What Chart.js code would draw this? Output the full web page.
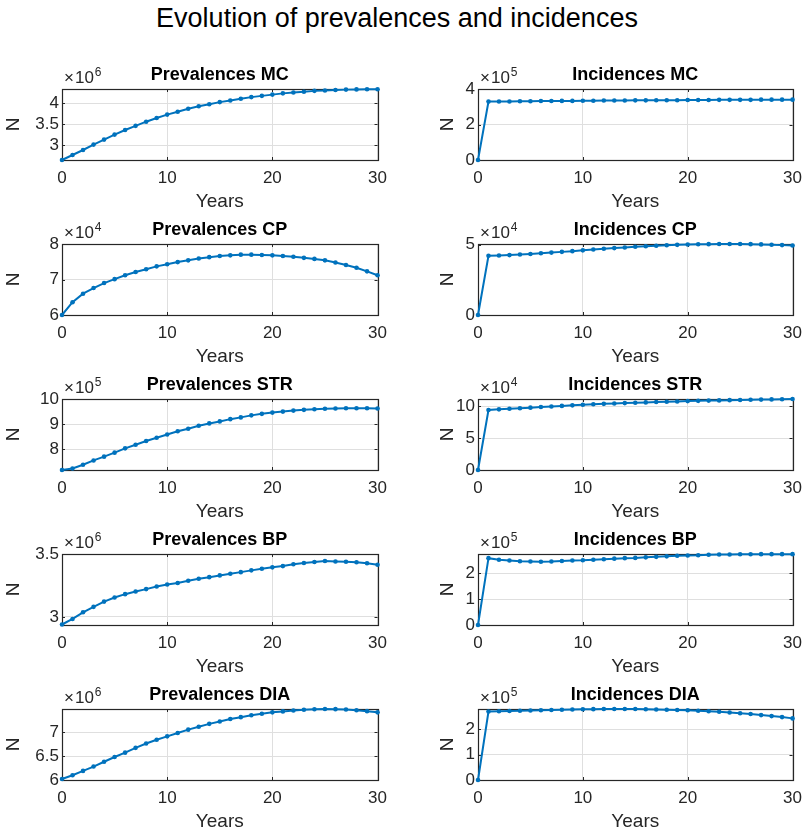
<!DOCTYPE html>
<html><head><meta charset="utf-8">
<script src="https://cdn.jsdelivr.net/npm/chart.js@4.4.1/dist/chart.umd.min.js"></script>
<style>
html,body{margin:0;padding:0;background:#fff;overflow:hidden;width:805px;height:832px;position:relative;}
#maintitle{position:absolute;left:0;top:3px;width:794px;text-align:center;font-family:"Liberation Sans",Arial,sans-serif;font-size:27px;line-height:30px;color:#000;white-space:nowrap;}
.cell{position:absolute;}
.cell canvas{display:block;}
</style></head><body>
<div id="maintitle">Evolution of prevalences and incidences</div>
<script>
// ---------- data ----------
const years = [0,1,2,3,4,5,6,7,8,9,10,11,12,13,14,15,16,17,18,19,20,21,22,23,24,25,26,27,28,29,30];
const xTicks = [0,10,20,30];

const prevMC = [2.64e6,2.76e6,2.88e6,3.01e6,3.13e6,3.25e6,3.36e6,3.46e6,3.56e6,3.65e6,3.73e6,3.80e6,3.87e6,3.93e6,3.98e6,4.03e6,4.07e6,4.11e6,4.15e6,4.18e6,4.21e6,4.24e6,4.26e6,4.28e6,4.30e6,4.31e6,4.32e6,4.33e6,4.335e6,4.34e6,4.34e6];
const incMC = [0,3.29e5,3.30e5,3.30e5,3.31e5,3.31e5,3.32e5,3.32e5,3.33e5,3.33e5,3.34e5,3.34e5,3.35e5,3.35e5,3.35e5,3.36e5,3.36e5,3.37e5,3.37e5,3.37e5,3.38e5,3.38e5,3.38e5,3.39e5,3.39e5,3.39e5,3.39e5,3.40e5,3.40e5,3.40e5,3.40e5];
const prevCP = [6.00e4,6.36e4,6.60e4,6.76e4,6.90e4,7.01e4,7.12e4,7.21e4,7.29e4,7.37e4,7.43e4,7.49e4,7.54e4,7.59e4,7.63e4,7.66e4,7.68e4,7.70e4,7.70e4,7.69e4,7.68e4,7.66e4,7.64e4,7.61e4,7.58e4,7.54e4,7.48e4,7.41e4,7.33e4,7.23e4,7.12e4];
const incCP = [0,4.21e4,4.23e4,4.26e4,4.30e4,4.34e4,4.39e4,4.44e4,4.49e4,4.54e4,4.60e4,4.66e4,4.71e4,4.76e4,4.80e4,4.85e4,4.89e4,4.93e4,4.96e4,4.99e4,5.01e4,5.03e4,5.04e4,5.05e4,5.05e4,5.05e4,5.04e4,5.02e4,5.00e4,4.97e4,4.94e4];
const prevSTR = [7.18e5,7.24e5,7.39e5,7.56e5,7.71e5,7.87e5,8.04e5,8.18e5,8.33e5,8.46e5,8.59e5,8.72e5,8.82e5,8.94e5,9.03e5,9.11e5,9.20e5,9.27e5,9.35e5,9.41e5,9.46e5,9.50e5,9.54e5,9.57e5,9.59e5,9.61e5,9.62e5,9.63e5,9.63e5,9.63e5,9.62e5];
const incSTR = [0,9.38e4,9.48e4,9.57e4,9.66e4,9.75e4,9.84e4,9.93e4,10.02e4,10.11e4,10.20e4,10.27e4,10.34e4,10.40e4,10.46e4,10.52e4,10.57e4,10.62e4,10.67e4,10.72e4,10.77e4,10.81e4,10.85e4,10.88e4,10.92e4,10.95e4,10.98e4,11.01e4,11.04e4,11.07e4,11.10e4];
const prevBP = [2.940e6,2.984e6,3.037e6,3.080e6,3.122e6,3.154e6,3.181e6,3.202e6,3.221e6,3.242e6,3.258e6,3.270e6,3.287e6,3.303e6,3.316e6,3.330e6,3.343e6,3.356e6,3.370e6,3.383e6,3.394e6,3.404e6,3.418e6,3.428e6,3.436e6,3.444e6,3.441e6,3.439e6,3.434e6,3.426e6,3.415e6];
const incBP = [0,2.58e5,2.52e5,2.49e5,2.46e5,2.45e5,2.44e5,2.45e5,2.47e5,2.49e5,2.50e5,2.52e5,2.54e5,2.56e5,2.58e5,2.59e5,2.61e5,2.63e5,2.65e5,2.67e5,2.68e5,2.69e5,2.71e5,2.72e5,2.72e5,2.73e5,2.73e5,2.735e5,2.735e5,2.735e5,2.735e5];
const prevDIA = [6.02e6,6.10e6,6.19e6,6.28e6,6.38e6,6.48e6,6.57e6,6.67e6,6.76e6,6.84e6,6.91e6,6.98e6,7.05e6,7.11e6,7.17e6,7.22e6,7.27e6,7.31e6,7.35e6,7.38e6,7.41e6,7.43e6,7.45e6,7.465e6,7.475e6,7.48e6,7.477e6,7.47e6,7.455e6,7.435e6,7.41e6];
const incDIA = [0,2.70e5,2.71e5,2.72e5,2.73e5,2.74e5,2.75e5,2.76e5,2.77e5,2.78e5,2.79e5,2.795e5,2.80e5,2.80e5,2.80e5,2.80e5,2.79e5,2.78e5,2.77e5,2.76e5,2.75e5,2.73e5,2.71e5,2.69e5,2.66e5,2.63e5,2.60e5,2.56e5,2.52e5,2.48e5,2.43e5];

const titles = ['Prevalences MC','Incidences MC','Prevalences CP','Incidences CP','Prevalences STR','Incidences STR','Prevalences BP','Incidences BP','Prevalences DIA','Incidences DIA'];
const series = [prevMC,incMC,prevCP,incCP,prevSTR,incSTR,prevBP,incBP,prevDIA,incDIA];
const exponents = [6,5,4,4,5,4,6,5,6,5];
const yTicks = [
  [3e6,3.5e6,4e6],[0,2e5,4e5],
  [6e4,7e4,8e4],[0,5e4],
  [8e5,9e5,10e5],[0,5e4,10e4],
  [3e6,3.5e6],[0,1e5,2e5],
  [6e6,6.5e6,7e6],[0,1e5,2e5]
];
const yMin = [2.64e6,0,6e4,0,7.18e5,0,2.936e6,0,6.0e6,0];
const yMax = [4.345e6,4e5,8e4,5.05e4,10e5,11.1e4,3.5e6,2.74e5,7.48e6,2.80e5];

// ---------- style ----------
const FONT = '"Liberation Sans", Arial, Helvetica, sans-serif';
const AX = '#262626';
const GRID = '#dfdfdf';
const LINE = '#0072BD';

const matlabAxes = {
  id: 'matlabAxes',
  beforeDatasetsDraw(chart) {
    const {ctx, chartArea: a, scales: {x, y}} = chart;
    const tl = 3;
    ctx.save();
    ctx.strokeStyle = AX;
    ctx.lineWidth = 1;
    ctx.beginPath();
    x.ticks.forEach(t => {
      const px = Math.round(x.getPixelForValue(t.value)) + 0.5;
      ctx.moveTo(px, a.bottom); ctx.lineTo(px, a.bottom - tl);
      ctx.moveTo(px, a.top); ctx.lineTo(px, a.top + tl);
    });
    y.ticks.forEach(t => {
      const py = Math.round(y.getPixelForValue(t.value)) + 0.5;
      ctx.moveTo(a.left, py); ctx.lineTo(a.left + tl, py);
      ctx.moveTo(a.right, py); ctx.lineTo(a.right - tl, py);
    });
    ctx.stroke();
    ctx.lineWidth = 1.2;
    ctx.strokeRect(Math.round(a.left) + 0.5, Math.round(a.top) + 0.5, Math.round(a.right - a.left), Math.round(a.bottom - a.top));
    ctx.restore();
  },
  afterDraw(chart, args, opts) {
    const {ctx, chartArea: a} = chart;
    ctx.save();
    ctx.fillStyle = AX;
    ctx.textBaseline = 'alphabetic';
    ctx.textAlign = 'left';
    ctx.font = '17px ' + FONT;
    const base = a.top - 6;
    let xx = a.left + 2;
    ctx.fillText('\u00d7', xx, base);
    xx += ctx.measureText('\u00d7').width + 1;
    ctx.fillText('10', xx, base);
    xx += ctx.measureText('10').width + 1;
    ctx.font = '12px ' + FONT;
    ctx.fillText(String(opts.exp), xx, base - 7);
    ctx.restore();
  }
};

function fmt(v) { return String(Number(v.toFixed(3))); }

const ROW_TOP = 55, ROW_STEP = 155, CELL_H = 155;
for (let i = 0; i < series.length; i++) {
  const col = i % 2, row = Math.floor(i / 2);
  const cellLeft = col === 0 ? 0 : 400;
  const cellW = col === 0 ? 395 : 410;
  const yW = col === 0 ? 62 : 78;
  const padR = col === 0 ? 16 : 13;
  const nPad = col === 0 ? 4.5 : 38.5;
  const div = document.createElement('div');
  div.className = 'cell';
  div.style.left = cellLeft + 'px';
  div.style.top = (ROW_TOP + row * ROW_STEP) + 'px';
  div.style.width = cellW + 'px';
  div.style.height = CELL_H + 'px';
  const cv = document.createElement('canvas');
  cv.width = cellW; cv.height = CELL_H;
  div.appendChild(cv);
  document.body.appendChild(div);
  const exp = exponents[i];
  const ticksY = yTicks[i];
  const pts = years.map((yr, k) => ({x: yr, y: series[i][k]}));
  new Chart(cv, {
    type: 'line',
    data: { datasets: [{
      data: pts,
      borderColor: LINE, backgroundColor: LINE,
      borderWidth: 2, pointRadius: 2.3, pointBorderWidth: 0,
      pointBackgroundColor: LINE, tension: 0, clip: 4
    }]},
    options: {
      responsive: false, animation: false, devicePixelRatio: 1,
      layout: { padding: { top: 0, left: 0, right: padR, bottom: 0 } },
      plugins: {
        legend: { display: false }, tooltip: { enabled: false },
        title: { display: true, text: titles[i], fullSize: false, color: '#000',
          font: { family: FONT, size: 18, weight: 'bold', lineHeight: 1.2 },
          padding: { top: 9.2, bottom: 3.2 } },
        matlabAxes: { exp: exp }
      },
      scales: {
        x: {
          type: 'linear', min: 0, max: 30,
          afterBuildTicks: s => { s.ticks = xTicks.map(v => ({value: v})); },
          afterFit: s => { s.height = 50; },
          ticks: { color: AX, font: { family: FONT, size: 17 }, padding: 8, maxRotation: 0, autoSkip: false },
          grid: { color: GRID, lineWidth: 1, drawTicks: false },
          border: { display: false },
          title: { display: true, text: 'Years', color: AX, font: { family: FONT, size: 19, lineHeight: 1 }, padding: { top: 0, bottom: -1 } }
        },
        y: {
          type: 'linear', min: yMin[i], max: yMax[i],
          afterBuildTicks: s => { s.ticks = ticksY.map(v => ({value: v})); },
          afterFit: s => { s.width = yW; },
          ticks: { color: AX, font: { family: FONT, size: 17 }, padding: 3, callback: v => fmt(v / Math.pow(10, exp)) },
          grid: { color: GRID, lineWidth: 1, drawTicks: false },
          border: { display: false },
          title: { display: true, text: 'N', color: AX, font: { family: FONT, size: 19, lineHeight: 1 }, padding: { top: nPad, bottom: 0 } }
        }
      }
    },
    plugins: [matlabAxes]
  });
}
</script>
</body></html>
